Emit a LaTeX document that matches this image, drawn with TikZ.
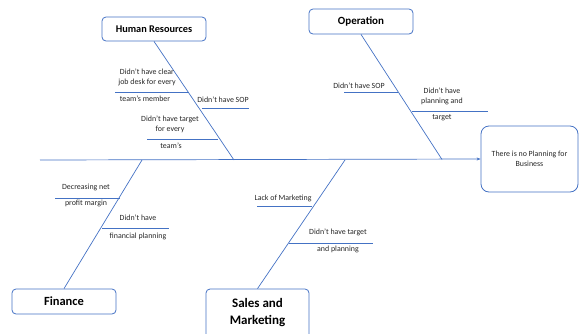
\documentclass[tikz,border=0pt]{standalone}
\usepackage{fontspec}
\setmainfont{Carlito}
\usetikzlibrary{arrows.meta, positioning}
\definecolor{fishblue}{HTML}{4472C4}

\begin{document}
\begin{tikzpicture} [x = 1pt, y = -1pt, font = \fontsize{7.9}{10}\selectfont,
	category/.style = {draw = fishblue, line width = 0.8pt, rounded corners = 4pt, inner sep = 0pt, align = center,
	minimum width = 104pt, minimum height = 24pt, font = \fontsize{10.3}{12}\selectfont\bfseries},
	boneline/.style = {fishblue, line width = 0.7pt},
	cause/.style = {text = black!85, inner sep = 0pt, align = center}]
			\useasboundingbox (0,0) rectangle (579,333);
			% Effect : the head of the fish
			\node (effect) [draw = fishblue, line width = 0.8pt, rounded corners = 8pt, minimum width = 97pt,
			minimum height = 66pt, align = center, text = black!85] at (529.5,159) {There is no Planning for\\Business};
			% Categories
			\node (hr) [category] at (154,29) {Human Resources};
			\node (ops) [category, minimum height = 25pt, font = \fontsize{11}{12}\selectfont\bfseries] at (361,21.5) {Operation};
			\node (fin) [category, minimum height = 25pt, font = \fontsize{12.5}{14}\selectfont\bfseries] at (64,301.5) {Finance};
			\node (sales) [category, minimum width = 103pt, minimum height = 50pt, text depth = 5pt,
			font = \fontsize{13}{17}\selectfont\bfseries] at (257.5,314) {Sales and\\Marketing};
			% Spine and bones
			\coordinate (tail) at (40,160);
			\coordinate (hrend) at (234,160);
			\coordinate (opsend) at (442,159.5);
			\coordinate (finend) at (142,160);
			\coordinate (salesend) at (345,160);
			\path [boneline]
			(tail) edge [-{Stealth[length = 4pt, width = 3pt]}] (effect.west)
			(hr.south) edge (hrend)
			(ops.south) edge (opsend)
			(fin.north) edge (finend)
			(sales.north) edge (salesend);
			% Causes of Human Resources
			\node (hrc1) [cause] at (147,77) {Didn’t have clear\\job desk for every};
			\node (hrc1b) [cause] at (145,99) {team’s member};
			\node (hrc2) [cause] at (223,100) {Didn’t have SOP};
			\node (hrc3) [cause] at (170,124.5) {Didn’t have target\\for every};
			\node (hrc3b) [cause] at (171,146) {team’s};
			\coordinate (hr1a) at (115,92);  \coordinate (hr1b) at (189,92);
			\coordinate (hr2a) at (202,108); \coordinate (hr2b) at (249,108);
			\coordinate (hr3a) at (147,139); \coordinate (hr3b) at (218,139);
			% Causes of Operation
			\node (opsc1) [cause] at (359,86) {Didn’t have SOP};
			\node (opsc2) [cause] at (442,96.5) {Didn’t have\\planning and};
			\node (opsc2b) [cause] at (442,118) {target};
			\coordinate (ops1a) at (344,92);  \coordinate (ops1b) at (398,92);
			\coordinate (ops2a) at (412,111); \coordinate (ops2b) at (488,111);
			% Causes of Finance
			\node (finc1) [cause] at (86,187) {Decreasing net};
			\node (finc1b) [cause] at (86,203) {profit margin};
			\node (finc2) [cause] at (138,218) {Didn’t have};
			\node (finc2b) [cause] at (138,236) {financial planning};
			\coordinate (fin1a) at (55,198);  \coordinate (fin1b) at (120,198);
			\coordinate (fin2a) at (102,228); \coordinate (fin2b) at (169,228);
			% Causes of Sales and Marketing
			\node (salesc1) [cause] at (283,198) {Lack of Marketing};
			\node (salesc2) [cause] at (338,232) {Didn’t have target};
			\node (salesc2b) [cause] at (338,249) {and planning};
			\coordinate (sales1a) at (257,206); \coordinate (sales1b) at (312,206);
			\coordinate (sales2a) at (289,243); \coordinate (sales2b) at (373,243);
			% Draw the small bones
			\path [boneline]
			(hr1a) edge (hr1b)
			(hr2a) edge (hr2b)
			(hr3a) edge (hr3b)
			(ops1a) edge (ops1b)
			(ops2a) edge (ops2b)
			(fin1a) edge (fin1b)
			(fin2a) edge (fin2b)
			(sales1a) edge (sales1b)
			(sales2a) edge (sales2b);
		\end{tikzpicture}
\end{document}
